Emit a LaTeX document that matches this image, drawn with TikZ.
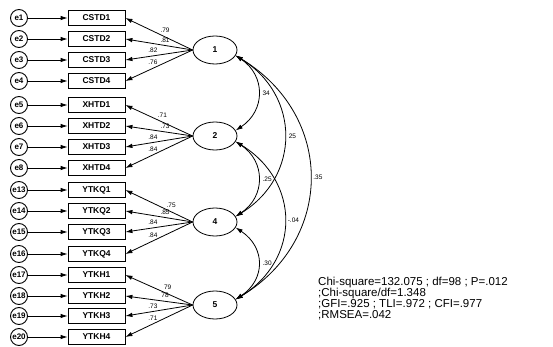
\documentclass[tikz,border=0pt]{standalone}
\usepackage{fontspec}
\setmainfont{Liberation Sans}
\usetikzlibrary{arrows.meta,shapes.geometric}
\begin{document}
\begin{tikzpicture}[x=1pt,y=-1pt,
  errc/.style={circle,draw,line width=0.9pt,minimum size=17pt,inner sep=0pt,font=\fontsize{8}{8}\selectfont\bfseries},
  obsbox/.style={rectangle,draw,line width=0.8pt,minimum width=57pt,minimum height=15pt,inner sep=0pt,font=\fontsize{8.5}{9}\selectfont\bfseries},
  latent/.style={ellipse,draw,line width=0.8pt,minimum width=44pt,minimum height=28pt,inner sep=0pt,font=\fontsize{8.5}{9}\selectfont\bfseries},
  errarrow/.style={line width=0.8pt,-{Latex[length=7pt,width=4.5pt]}},
  load/.style={line width=0.8pt,-{Latex[length=7pt,width=4.5pt]}},
  cov/.style={line width=0.8pt,{Latex[length=7pt,width=4.5pt]}-{Latex[length=7pt,width=4.5pt]}},
  lbl/.style={font=\fontsize{6.5}{7}\selectfont,inner sep=1pt},
  stats/.style={font=\fontsize{11.5}{11}\selectfont,align=left,inner sep=0pt,anchor=north west}
]
\useasboundingbox (0,0) rectangle (553,347);
\fill[white] (0,0) rectangle (553,347);

% latent variables
\node[latent] (L1) at (215,50) {1};
\node[latent] (L2) at (215,136) {2};
\node[latent] (L4) at (215,222) {4};
\node[latent] (L5) at (215,305) {5};

% observed + errors
\foreach \nm/\er/\y in {CSTD1/e1/18,CSTD2/e2/39,CSTD3/e3/60,CSTD4/e4/81,
  XHTD1/e5/105,XHTD2/e6/126,XHTD3/e7/147,XHTD4/e8/168,
  YTKQ1/e13/190,YTKQ2/e14/211,YTKQ3/e15/232,YTKQ4/e16/254,
  YTKH1/e17/275,YTKH2/e18/296,YTKH3/e19/316,YTKH4/e20/337}{
  \node[obsbox] (\nm) at (96.5,\y) {\nm};
  \node[errc] (\er) at (19,\y) {\er};
  \draw[errarrow] (\er) -- (\nm);
}

% loadings group 1
\draw[load] (L1.west) -- node[lbl,pos=0.41,above=3pt] {.79} (CSTD1.east);
\draw[load] (L1.west) -- node[lbl,pos=0.41,above=2pt] {.81} (CSTD2.east);
\draw[load] (L1.west) -- node[lbl,pos=0.59,above=2pt] {.82} (CSTD3.east);
\draw[load] (L1.west) -- node[lbl,pos=0.59,above=2pt] {.76} (CSTD4.east);
% group 2
\draw[load] (L2.west) -- node[lbl,pos=0.45,above=3pt] {.71} (XHTD1.east);
\draw[load] (L2.west) -- node[lbl,pos=0.41,above=2pt] {.73} (XHTD2.east);
\draw[load] (L2.west) -- node[lbl,pos=0.59,above=2pt] {.84} (XHTD3.east);
\draw[load] (L2.west) -- node[lbl,pos=0.59,above=2pt] {.84} (XHTD4.east);
% group 4
\draw[load] (L4.west) -- node[lbl,pos=0.32,above=3pt] {.75} (YTKQ1.east);
\draw[load] (L4.west) -- node[lbl,pos=0.41,above=2pt] {.85} (YTKQ2.east);
\draw[load] (L4.west) -- node[lbl,pos=0.59,above=2pt] {.84} (YTKQ3.east);
\draw[load] (L4.west) -- node[lbl,pos=0.59,above=2pt] {.84} (YTKQ4.east);
% group 5
\draw[load] (L5.west) -- node[lbl,pos=0.37,above=3pt] {79} (YTKH1.east);
\draw[load] (L5.west) -- node[lbl,pos=0.41,above=2pt] {78} (YTKH2.east);
\draw[load] (L5.west) -- node[lbl,pos=0.59,above=2pt] {.73} (YTKH3.east);
\draw[load] (L5.west) -- node[lbl,pos=0.59,above=2pt] {.71} (YTKH4.east);

% covariances
\draw[cov] (L1.-15) .. controls +(30,20) and +(30,-20) .. node[lbl,pos=0.5,right=3pt] {34} (L2.15);
\draw[cov] (L1.-15) .. controls +(65,40) and +(65,-40) .. node[lbl,pos=0.5,right=3pt] {25} (L4.15);
\draw[cov] (L1.-15) .. controls +(99,60) and +(99,-60) .. node[lbl,pos=0.5,right=2pt] {.35} (L5.15);
\draw[cov] (L2.-15) .. controls +(30,20) and +(30,-20) .. node[lbl,pos=0.5,right=3pt] {.25} (L4.15);
\draw[cov] (L2.-15) .. controls +(65,40) and +(65,-40) .. node[lbl,pos=0.5,right=2pt] {-.04} (L5.15);
\draw[cov] (L4.-15) .. controls +(30,20) and +(30,-20) .. node[lbl,pos=0.5,right=3pt] {.30} (L5.15);

% fit statistics
\node[stats] (fit) at (318,277) {Chi-square=132.075 ; df=98 ; P=.012\\;Chi-square/df=1.348\\;GFI=.925 ; TLI=.972 ; CFI=.977\\;RMSEA=.042};
\end{tikzpicture}
\end{document}
